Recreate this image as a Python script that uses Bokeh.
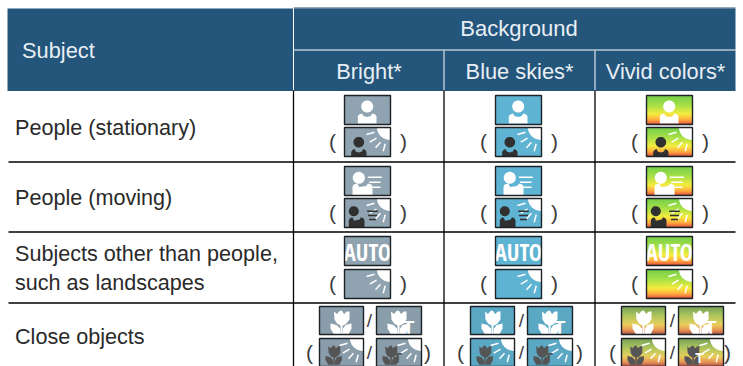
from bokeh.plotting import figure
from bokeh.embed import file_html
from bokeh.resources import INLINE
from bokeh.core.properties import value
import numpy as np

subjects = [["People (stationary)"], ["People (moving)"],
            ["Subjects other than people,", "such as landscapes"], ["Close objects"]]
subject_y = [[127], [197], [253, 282], [336]]
backgrounds = ["Bright*", "Blue skies*", "Vivid colors*"]
col_cx = [368.5, 519, 665]
col_left = [344, 495, 646]
kinds = [("person", "person_back"), ("move", "move_back"), ("auto", "sun")]
row_tops = [(95, 127), (166, 198), (236, 269)]
paren_x = [(332, 403), (483, 554), (634, 705)]
paren_y = [141, 212, 283]
macro_left = [(319, 376), (470, 527), (621, 678)]
macro_tops = (306, 338)
macro_marks = [(309, 369, 427), (460, 521, 579), (612, 672, 727)]

HEAD = "#24557b"
FONT = "Liberation Sans"
AUTO_FONT = "Open Sans Condensed"
BG = ["#8fa3b1", "#5fb3d3", None]
DARK = "#303030"

p = figure(width=743, height=366, x_range=(0, 743), y_range=(366, 0), min_border=0,
           toolbar_location=None, output_backend="svg", outline_line_color=None,
           background_fill_color="white", border_fill_color="white")
p.axis.visible = False
p.grid.visible = False


def txt(x, y, s, size, color="#2a2a2a", align="left", font=FONT, style="normal"):
    p.text([x], [y], text=[s], text_font=value(font), text_font_size=f"{size}px",
           text_color=color, text_align=align, text_baseline="middle", text_font_style=style)


def line(xs, ys, color="black", w=1.5):
    p.line(xs, ys, line_color=color, line_width=w)


# ---- table frame
p.quad(left=[7], right=[735], top=[8], bottom=[90.5], fill_color=HEAD, line_color=None)
p.quad(left=[293], right=[735], top=[7], bottom=[8], fill_color=HEAD, line_color=None)
line([293, 293], [7, 90], "white", 1)
line([293, 735], [49.5, 49.5], "white", 1)
for x in (443.5, 594.5):
    line([x, x], [50, 90], "white", 1)
for x in (293, 443.5, 594.5):
    line([x, x], [90, 366], "black", 1.3)
for y in (161.5, 231.5, 302.5):
    line([8, 735], [y, y], "black", 1.3)

txt(21.5, 50, "Subject", 21.8, "#e8eff4")
txt(518.5, 28, "Background", 22, "#e8eff4", "center")
for cx, b in zip(col_cx, backgrounds):
    txt(cx, 71, b, 21.8, "#e8eff4", "center")
for labels, ys in zip(subjects, subject_y):
    for s, y in zip(labels, ys):
        txt(14.5, y, s, 21.6)


# ---- icons
def gradient(x, y, w, h, macro):
    stops = [0, .35, .65, .85, .96, 1]
    if macro:
        cols = [(70, 130, 35), (150, 180, 40), (225, 190, 40), (225, 110, 30), (170, 50, 20), (110, 25, 15)]
    else:
        cols = [(70, 190, 15), (140, 215, 10), (245, 230, 0), (255, 140, 0), (230, 50, 0), (130, 10, 0)]
    n = int(h)
    ts = (np.arange(n) + .5) / n
    rgb = [np.interp(ts, stops, [c[i] for c in cols]).astype(int) for i in range(3)]
    hexes = [f"#{r:02x}{g:02x}{b:02x}" for r, g, b in zip(*rgb)]
    p.quad(left=[x] * n, right=[x + w] * n, top=list(y + np.arange(n) * h / n),
           bottom=list(y + (np.arange(n) + 1.05) * h / n), fill_color=hexes, line_color=None)


def circ(x, y, r, color):
    t = np.linspace(0, 2 * np.pi, 40)
    p.patch(x + r * np.cos(t), y + r * np.sin(t), fill_color=color, line_color=None)


def poly(x0, y0, pts, color):
    p.patch([x0 + a for a, _ in pts], [y0 + b for _, b in pts], fill_color=color, line_color=None)


def sun(x, y, w):
    t = np.linspace(np.pi / 2, np.pi, 20)
    p.patch(list(x + w + 13.5 * np.cos(t)) + [x + w], list(y + 12.5 * np.sin(t)) + [y],
            fill_color="white", line_color=None)
    d = w - 46
    for (a, b, c, e) in [(22, 7, 30, 4.7), (25.3, 14.7, 32, 10.7), (31, 20.3, 36, 14.7), (38.7, 23.7, 40.7, 16.3)]:
        line([x + a + d, x + c + d], [y + b, y + e], "white", 1.5)


def person(x, y, hx, hy, r, bx0, bx1, bt, bb, color):
    m = (bx0 + bx1) / 2
    q = (bx1 - bx0) / 2
    pts = [(bx0, bb), (bx0, bt + 3), (bx0 + 1.2, bt + 1), (m - q * .55, bt), (m - r * .6, bt + 2.4), (hx, bt + 3.6),
           (m + r * .6, bt + 2.4), (m + q * .55, bt), (bx1 - 1.2, bt + 1), (bx1, bt + 3), (bx1, bb)]
    poly(x, y, pts, color)
    circ(x + hx, y + hy, r, color)


TULIP = [(14.5, 5), (17.5, 7.5), (20, 4.5), (22.3, 4), (24.5, 7.5), (27.5, 5), (30, 5), (30, 13), (27, 17), (24, 19),
         (21, 19), (17.5, 17), (15, 13)]
LEAF_L = [(11, 17), (17, 18.5), (20.5, 22), (21, 28), (14.5, 28), (11, 22)]
LEAF_R = [(32, 17), (26, 18.5), (23.5, 22), (23, 28), (29, 28), (32, 22)]
STEM = [(21, 18), (23, 18), (23, 28), (21, 28)]


def flower(x, y, color, small=False):
    for shape in (TULIP, LEAF_L, LEAF_R, STEM):
        pts = [((a - 11) * .78 + 6, (b - 4) * .8 + 7) for a, b in shape] if small else shape
        poly(x, y, pts, color)


def frame(x, y, w, h):
    p.quad(left=[x], right=[x + w], top=[y], bottom=[y + h], fill_color=None, line_color="#1d2226", line_width=1.4)


def icon(kind, col, x, y, w=46, h=29, macro=False, t=False):
    if BG[col]:
        bg = BG[col] if not macro else ("#8a9dab" if col == 0 else "#5aa8c4")
        p.quad(left=[x], right=[x + w], top=[y], bottom=[y + h], fill_color=bg, line_color=None)
    else:
        gradient(x, y, w, h, macro)
    if kind == "person":
        person(x, y, 22.7, 11, 6, 13.3, 32, 18, 28, "white")
    elif kind == "person_back":
        sun(x, y, w)
        person(x, y, 14.3, 14.7, 5.3, 6.7, 22, 21.5, 29, DARK)
    elif kind == "move":
        person(x, y, 14.3, 11.3, 6, 8, 28, 17, 29, "white")
        line([x + 23.3, x + 37.3], [y + 10.7] * 2, "white", 1.4)
        line([x + 24.7, x + 36], [y + 15.7] * 2, "white", 1.4)
        line([x + 27.7, x + 36], [y + 20.7] * 2, "white", 1.4)
    elif kind == "move_back":
        sun(x, y, w)
        person(x, y, 9.3, 12.7, 5, 4.3, 20, 18.7, 29, DARK)
        line([x + 22.7, x + 33.3], [y + 12.7] * 2, DARK, 1.6)
        line([x + 23.5, x + 32.5], [y + 17] * 2, DARK, 1.6)
        line([x + 24.5, x + 31.5], [y + 21] * 2, DARK, 1.6)
    elif kind == "auto":
        txt(x + w / 2, y + h / 2 + 1, "AUTO", 22.5, "white", "center", AUTO_FONT)
    elif kind == "sun":
        sun(x, y, w)
    elif kind == "flower":
        flower(x, y, "white")
    elif kind == "flower_back":
        sun(x, y, w)
        flower(x, y, "#555555", True)
    if t:
        if kind == "flower":
            txt(x + 32, y + 20.5, "T", 19, "white", "center", FONT, "bold")
        else:
            txt(x + 21, y + 19, "T", 14, "white" if col == 2 else "#555555", "center", FONT, "bold")
    frame(x, y, w, h)


for c in range(3):
    for (k1, k2), (t1, t2), py in zip(kinds, row_tops, paren_y):
        icon(k1, c, col_left[c], t1)
        icon(k2, c, col_left[c], t2)
        txt(paren_x[c][0], py, "(", 21, "#3c3c3c", "center")
        txt(paren_x[c][1], py, ")", 21, "#3c3c3c", "center")
    l1, l2 = macro_left[c]
    icon("flower", c, l1, macro_tops[0], 44, 28, True)
    icon("flower", c, l2, macro_tops[0], 45, 28, True, True)
    icon("flower_back", c, l1, macro_tops[1], 44, 28, True)
    icon("flower_back", c, l2, macro_tops[1], 45, 28, True, True)
    a, b, d = macro_marks[c]
    txt(a, 352, "(", 21, "#3c3c3c", "center")
    txt(d, 352, ")", 21, "#3c3c3c", "center")
    txt(b, 320, "/", 19, "#3c3c3c", "center")
    txt(b, 352, "/", 19, "#3c3c3c", "center")

open("out.html", "w").write(file_html(p, INLINE))
